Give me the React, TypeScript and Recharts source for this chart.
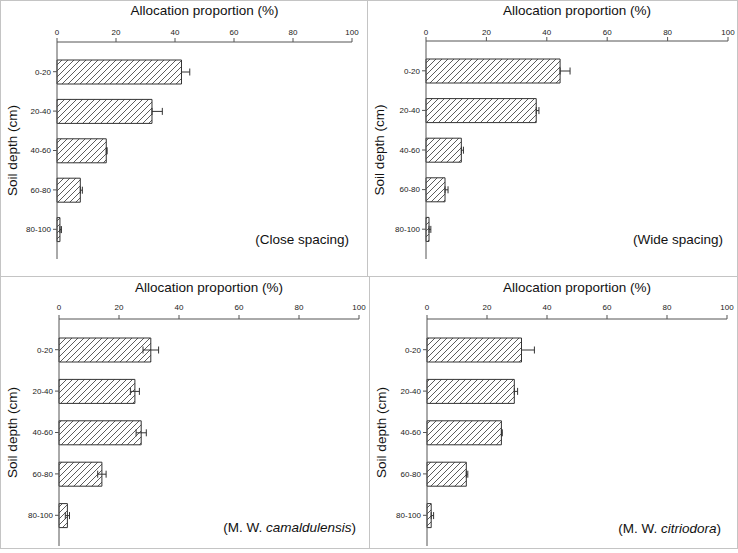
import React from "react";
import { BarChart, Bar, XAxis, YAxis, ErrorBar } from "recharts";

const depths = ["0-20", "20-40", "40-60", "60-80", "80-100"];
const xTicks = [0, 20, 40, 60, 80, 100];

const closeMean = [42.2, 32.2, 16.7, 7.9, 1.0];
const closeErr = [2.8, 3.5, 0.3, 0.7, 0.5];

const wideMean = [44.4, 36.5, 11.7, 6.3, 1.0];
const wideErr = [3.3, 0.9, 0.7, 1.0, 0.6];

const camaMean = [30.6, 25.3, 27.4, 14.3, 2.8];
const camaErr = [2.6, 1.5, 1.7, 1.4, 0.7];

const citrMean = [31.5, 29.1, 24.8, 13.1, 1.4];
const citrErr = [4.3, 1.1, 0.3, 0.5, 0.8];

const FONT = "'Liberation Sans', Arial, sans-serif";
const AXIS = "#555";
const INK = "#333";

type PanelProps = {
  id: string;
  left: number;
  top: number;
  width: number;
  height: number;
  plotLeft: number;
  plotTop: number;
  rightGap: number;
  bottomGap: number;
  titleOffset: number;
  tickGap: number;
  means: number[];
  errs: number[];
  twoSided?: boolean;
  noteX: number;
  noteY: number;
  note: React.ReactNode;
};

function Panel(p: PanelProps) {
  const w = p.width - 2;
  const h = p.height - 2;
  const data = depths.map((d, i) => ({
    depth: d,
    mean: p.means[i],
    err: p.twoSided ? p.errs[i] : [0, p.errs[i]],
  }));

  return (
    <div
      style={{
        position: "absolute",
        left: p.left,
        top: p.top,
        width: p.width,
        height: p.height,
        border: "1px solid #c4c4c4",
        boxSizing: "border-box",
      }}
    >
      <div style={{ position: "relative", width: w, height: h }}>
        <BarChart
          width={w}
          height={h}
          data={data}
          layout="vertical"
          margin={{ top: 0, left: 0, right: p.rightGap, bottom: p.bottomGap }}
        >
          <defs>
            <pattern
              id={`hatch-${p.id}`}
              patternUnits="userSpaceOnUse"
              width={6}
              height={6}
            >
              <rect width={6} height={6} fill="#fff" />
              <path
                d="M-1,1 l2,-2 M0,6 l6,-6 M5,7 l2,-2"
                stroke={INK}
                strokeWidth={0.8}
              />
            </pattern>
          </defs>
          <XAxis
            type="number"
            orientation="top"
            domain={[0, 100]}
            ticks={xTicks}
            height={p.plotTop}
            stroke={AXIS}
            tickSize={4}
            tickMargin={p.tickGap}
            tick={{ fontSize: 8, fill: "#222", fontFamily: FONT }}
            label={{
              value: "Allocation proportion (%)",
              position: "insideTop",
              offset: p.titleOffset,
              style: { fontSize: 13.5, fill: "#111", fontFamily: FONT },
            }}
          />
          <XAxis
            xAxisId="frame"
            type="number"
            orientation="bottom"
            domain={[0, 100]}
            height={0}
            stroke={AXIS}
            tick={false}
            tickLine={false}
          />
          <YAxis
            type="category"
            dataKey="depth"
            width={p.plotLeft}
            padding={{ top: 10, bottom: 10 }}
            stroke={AXIS}
            tickSize={4}
            tick={{ fontSize: 8, fill: "#222", fontFamily: FONT }}
            label={{
              value: "Soil depth (cm)",
              angle: -90,
              position: "insideLeft",
              offset: 11,
              style: {
                fontSize: 13.5,
                fill: "#111",
                fontFamily: FONT,
                textAnchor: "middle",
              },
            }}
          />
          <YAxis
            yAxisId="frame"
            type="category"
            dataKey="depth"
            orientation="right"
            width={0}
            stroke={AXIS}
            tick={false}
            tickLine={false}
          />
          <Bar
            dataKey="mean"
            fill={`url(#hatch-${p.id})`}
            stroke={INK}
            strokeWidth={1}
            barSize={24}
            isAnimationActive={false}
          >
            <ErrorBar
              dataKey="err"
              direction="x"
              width={3.5}
              stroke={INK}
              strokeWidth={1}
            />
          </Bar>
        </BarChart>
        <svg
          width={w}
          height={h}
          style={{ position: "absolute", left: 0, top: 0, pointerEvents: "none" }}
        >
          <text
            x={p.noteX}
            y={p.noteY}
            textAnchor="end"
            fontSize={13.5}
            fill="#111"
            fontFamily={FONT}
          >
            {p.note}
          </text>
        </svg>
      </div>
    </div>
  );
}

export default function App() {
  return (
    <div
      style={{
        position: "absolute",
        left: 0,
        top: 0,
        width: 738,
        height: 553,
        background: "#fff",
      }}
    >
      <Panel
        id="close"
        left={0}
        top={0}
        width={368}
        height={277}
        plotLeft={56}
        plotTop={41}
        rightGap={15}
        bottomGap={17}
        titleOffset={4.4}
        tickGap={3}
        means={closeMean}
        errs={closeErr}
        noteX={348}
        noteY={242.5}
        note="(Close spacing)"
      />
      <Panel
        id="wide"
        left={367}
        top={0}
        width={371}
        height={277}
        plotLeft={58}
        plotTop={40}
        rightGap={9}
        bottomGap={17}
        titleOffset={4.4}
        tickGap={2}
        means={wideMean}
        errs={wideErr}
        noteX={355}
        noteY={243}
        note="(Wide spacing)"
      />
      <Panel
        id="cama"
        left={0}
        top={276}
        width={370}
        height={273}
        plotLeft={58}
        plotTop={42}
        rightGap={10}
        bottomGap={2}
        titleOffset={5.3}
        tickGap={5}
        means={camaMean}
        errs={camaErr}
        twoSided
        noteX={355}
        noteY={255}
        note={
          <>
            (M. W. <tspan fontStyle="italic">camaldulensis</tspan>)
          </>
        }
      />
      <Panel
        id="citr"
        left={369}
        top={276}
        width={369}
        height={273}
        plotLeft={57}
        plotTop={42}
        rightGap={10}
        bottomGap={2}
        titleOffset={5.3}
        tickGap={5}
        means={citrMean}
        errs={citrErr}
        noteX={351}
        noteY={256}
        note={
          <>
            (M. W. <tspan fontStyle="italic">citriodora</tspan>)
          </>
        }
      />
    </div>
  );
}
